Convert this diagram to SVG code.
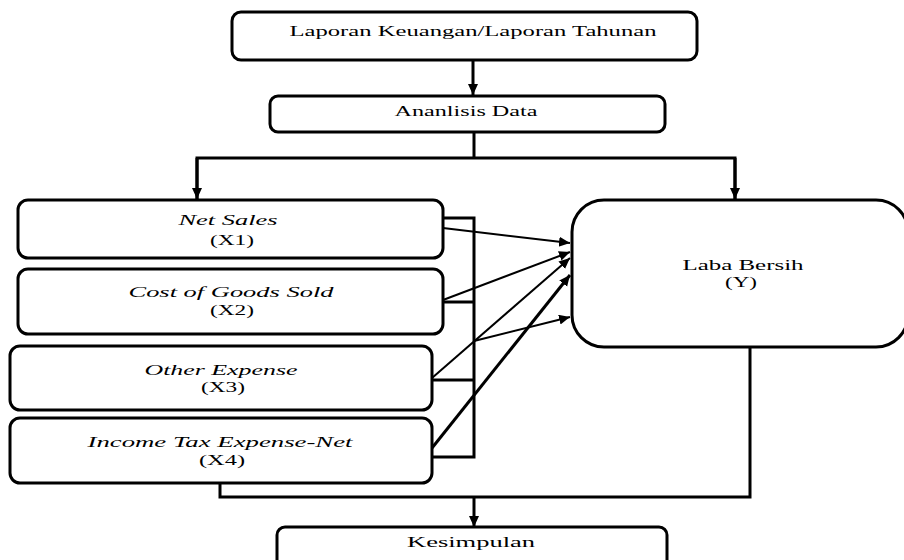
<svg xmlns="http://www.w3.org/2000/svg" width="904" height="560" viewBox="0 0 904 560">
<style>
.box{fill:#fff;stroke:#000;stroke-width:3}
.t{font-family:"Liberation Serif","DejaVu Serif","Times New Roman",serif;font-size:14px;fill:#000;text-anchor:middle}
.i{font-style:italic}
.ln{fill:none;stroke:#000;stroke-width:3}
.ar{fill:none;stroke:#000;stroke-width:2}
</style>
<defs>
<marker id="ah" markerUnits="userSpaceOnUse" markerWidth="12" markerHeight="12" refX="11" refY="5" orient="auto">
<path d="M0,0 L11,5 L0,10 z" fill="#000"/>
</marker>
</defs>
<rect width="904" height="560" fill="#fff"/>
<g id="connectors">
<line class="ln" x1="473" y1="60" x2="473" y2="95" marker-end="url(#ah)"/>
<polyline class="ln" points="474,132 474,158"/>
<polyline class="ln" points="197,200 197,158 735,158 735,200"/>
<line class="ln" x1="197" y1="158" x2="197" y2="199" marker-end="url(#ah)"/>
<line class="ln" x1="735" y1="158" x2="735" y2="199" marker-end="url(#ah)"/>
<polyline class="ln" points="443,218 474,218 474,457 432,457"/>
<line class="ln" x1="443" y1="302" x2="474" y2="302"/>
<line class="ln" x1="432" y1="380" x2="474" y2="380"/>
<line class="ar" x1="443" y1="228" x2="570" y2="243" marker-end="url(#ah)"/>
<line class="ar" x1="443" y1="300" x2="570" y2="252" marker-end="url(#ah)"/>
<line class="ar" x1="432" y1="378" x2="570" y2="258" marker-end="url(#ah)"/>
<line class="ar" x1="474" y1="341" x2="570" y2="317" marker-end="url(#ah)"/>
<line class="ln" x1="432" y1="448" x2="570" y2="275" marker-end="url(#ah)"/>
<polyline class="ln" points="220,483 220,497 750,497 750,347"/>
<line class="ln" x1="474" y1="497" x2="474" y2="527" marker-end="url(#ah)"/>
</g>
<g id="laporan">
<rect class="box" x="232" y="12" width="465" height="48" rx="9"/>
<text class="t" x="473" y="36" textLength="367" lengthAdjust="spacingAndGlyphs">Laporan Keuangan/Laporan Tahunan</text>
</g>
<g id="analisis">
<rect class="box" x="270" y="96" width="395" height="36" rx="8"/>
<text class="t" x="466" y="116" textLength="143" lengthAdjust="spacingAndGlyphs">Ananlisis Data</text>
</g>
<g id="x1">
<rect class="box" x="18" y="200" width="425" height="58" rx="10"/>
<text class="t i" x="228" y="225" textLength="99" lengthAdjust="spacingAndGlyphs">Net Sales</text>
<text class="t" x="232" y="245" textLength="44" lengthAdjust="spacingAndGlyphs">(X1)</text>
</g>
<g id="x2">
<rect class="box" x="18" y="269" width="425" height="65" rx="10"/>
<text class="t i" x="231" y="297" textLength="205" lengthAdjust="spacingAndGlyphs">Cost of Goods Sold</text>
<text class="t" x="232" y="315" textLength="44" lengthAdjust="spacingAndGlyphs">(X2)</text>
</g>
<g id="x3">
<rect class="box" x="10" y="346" width="422" height="64" rx="10"/>
<text class="t i" x="221" y="375" textLength="153" lengthAdjust="spacingAndGlyphs">Other Expense</text>
<text class="t" x="223" y="392" textLength="44" lengthAdjust="spacingAndGlyphs">(X3)</text>
</g>
<g id="x4">
<rect class="box" x="10" y="418" width="422" height="65" rx="10"/>
<text class="t i" x="220" y="447" textLength="265" lengthAdjust="spacingAndGlyphs">Income Tax Expense-Net</text>
<text class="t" x="222" y="465" textLength="46" lengthAdjust="spacingAndGlyphs">(X4)</text>
</g>
<g id="y">
<rect class="box" x="572" y="200" width="336" height="147" rx="32"/>
<text class="t" x="743" y="270" textLength="121" lengthAdjust="spacingAndGlyphs">Laba Bersih</text>
<text class="t" x="741" y="287" textLength="32" lengthAdjust="spacingAndGlyphs">(Y)</text>
</g>
<g id="kesimpulan">
<rect class="box" x="277" y="527" width="390" height="50" rx="8"/>
<text class="t" x="471" y="547" textLength="128" lengthAdjust="spacingAndGlyphs">Kesimpulan</text>
</g>
</svg>
